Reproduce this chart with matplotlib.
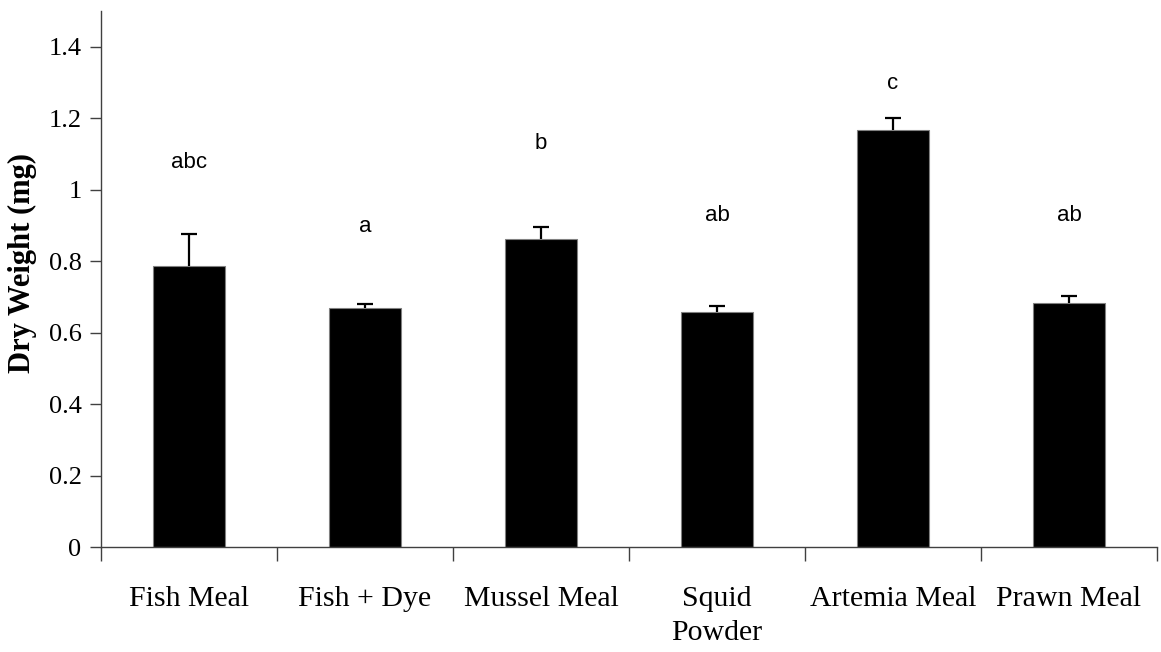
import numpy as np
import matplotlib
matplotlib.use("Agg")
import matplotlib.pyplot as plt
from matplotlib.ticker import FuncFormatter

# diet treatments and mean dry weight (mg) with upper SE
diets = ['Fish Meal', 'Fish + Dye', 'Mussel Meal', 'Squid\nPowder', 'Artemia Meal', 'Prawn Meal']
dry_weight = [0.787, 0.670, 0.861, 0.658, 1.168, 0.682]
se = [0.088, 0.010, 0.036, 0.016, 0.032, 0.020]
groups = ['abc', 'a', 'b', 'ab', 'c', 'ab']
group_y = [1.075, 0.898, 1.129, 0.929, 1.297, 0.929]

plt.rcParams['font.family'] = ['Liberation Serif', 'DejaVu Serif']

fig = plt.figure(figsize=(11.61, 6.52), dpi=100)
ax = fig.add_axes([0.087, 0.161, 0.9096, 0.822])

x = np.arange(len(diets))
ax.bar(x, dry_weight, width=0.405, color='black', edgecolor='#808080', linewidth=0.8, zorder=2)
_, caps, _ = ax.errorbar(x, dry_weight, yerr=[np.zeros(len(se)), se], fmt='none', ecolor='black',
                         elinewidth=1.6, capsize=5.8, capthick=1.6, zorder=3)
caps[0].set_visible(False)  # only the upper cap is shown

for xi, g, gy in zip(x, groups, group_y):
    ax.text(xi, gy, g, ha='center', va='center', fontsize=16, family='Liberation Sans')

ax.set_xlim(-0.5, len(diets) - 0.5)
ax.set_ylim(0, 1.5)
ax.set_yticks(np.arange(0, 1.41, 0.2))
ax.yaxis.set_major_formatter(FuncFormatter(lambda v, p: '%g' % round(v, 1)))

# category boundaries carry the tick marks, names sit between them
ax.set_xticks(np.arange(-0.5, len(diets), 1.0))
ax.set_xticklabels([])
ax.set_xticks(x, minor=True)
ax.set_xticklabels(diets, minor=True, fontsize=21.5, linespacing=1.4)
ax.tick_params(axis='x', which='major', direction='out', length=10, width=1, color='#404040')
ax.tick_params(axis='x', which='minor', length=0, pad=28)
ax.tick_params(axis='y', direction='out', length=8, width=1, color='#404040', labelsize=19, pad=6)

for side in ['top', 'right']:
    ax.spines[side].set_visible(False)
for side in ['left', 'bottom']:
    ax.spines[side].set_color('#404040')
    ax.spines[side].set_linewidth(1)

ax.set_ylabel('Dry Weight (mg)', fontsize=22, fontweight='bold')
ax.yaxis.set_label_coords(-0.061, 0.53)

fig.savefig('out.png', dpi=100)
